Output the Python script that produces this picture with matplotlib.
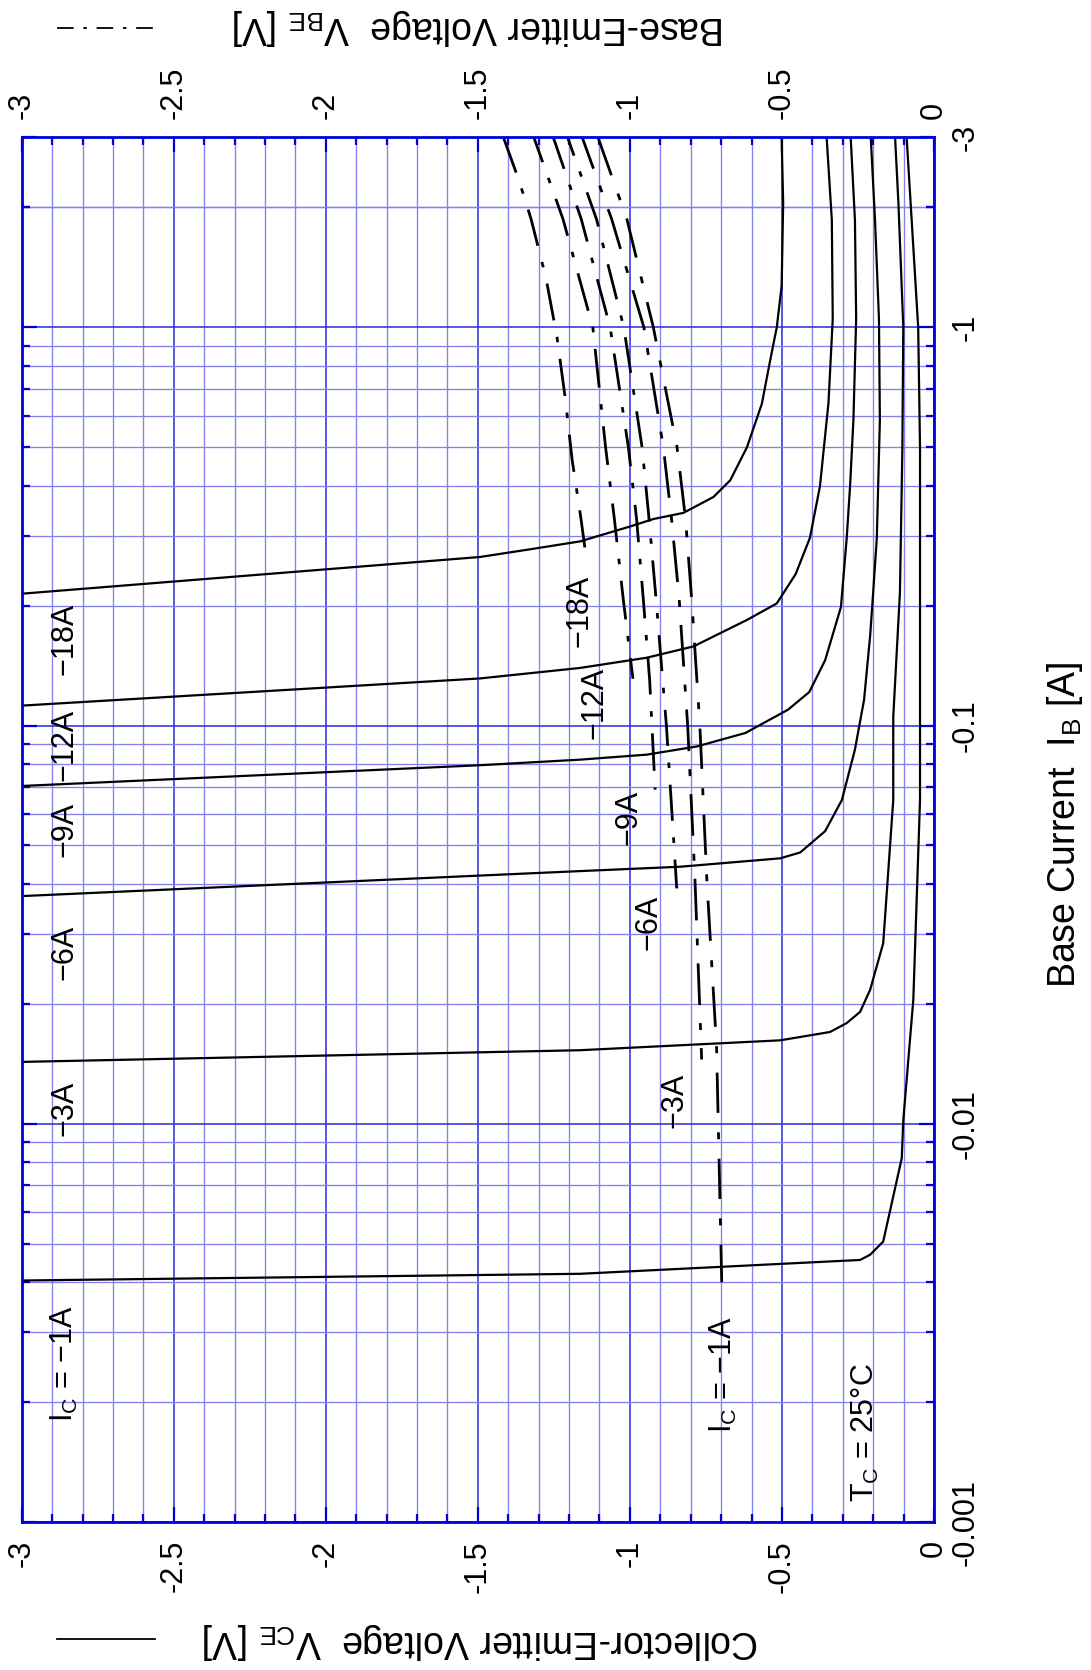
import numpy as np
import matplotlib.pyplot as plt
from matplotlib.lines import Line2D
from matplotlib.ticker import FixedLocator

plt.rcParams['font.family'] = ['Liberation Sans', 'DejaVu Sans']
plt.rcParams['mathtext.fontset'] = 'custom'
plt.rcParams['mathtext.rm'] = 'Liberation Sans'
plt.rcParams['mathtext.it'] = 'Liberation Sans:italic'
plt.rcParams['lines.scale_dashes'] = False

W, H = 1091, 1670

# ---- data (base current given as magnitude |I_B| in A, voltages in V) ----
# Collector-emitter saturation voltage V_CE vs I_B, one list pair per I_C
vce_1a = [-3.0, -1.164, -0.243, -0.21, -0.167, -0.106, -0.101, -0.068, -0.046, -0.046, -0.046, -0.046, -0.052, -0.090]
ib_1a = [0.00404, 0.00420, 0.00455, 0.00469, 0.00506, 0.0082, 0.0102, 0.0205, 0.065, 0.105, 0.216, 0.5, 1.0, 3.0]

vce_3a = [-3.0, -1.164, -0.506, -0.342, -0.287, -0.243, -0.21, -0.167, -0.134, -0.134, -0.112, -0.104, -0.101, -0.117, -0.128]
ib_3a = [0.0143, 0.0153, 0.0162, 0.0170, 0.0179, 0.0191, 0.0217, 0.0284, 0.065, 0.105, 0.216, 0.497, 1.0, 2.05, 3.0]

vce_6a = [-3.0, -1.493, -1.164, -0.835, -0.506, -0.44, -0.358, -0.303, -0.26, -0.23, -0.21, -0.20, -0.188, -0.178, -0.181, -0.194, -0.208]
ib_6a = [0.0373, 0.0420, 0.0431, 0.0442, 0.0464, 0.048, 0.0543, 0.065, 0.087, 0.116, 0.168, 0.216, 0.296, 0.585, 1.05, 1.86, 3.0]

vce_9a = [-3.0, -1.493, -1.164, -0.945, -0.780, -0.62, -0.48, -0.41, -0.358, -0.306, -0.287, -0.276, -0.265, -0.256, -0.260, -0.274]
ib_9a = [0.0705, 0.0795, 0.0821, 0.0845, 0.0886, 0.0958, 0.1096, 0.1214, 0.1459, 0.1984, 0.296, 0.399, 0.585, 1.05, 1.86, 3.0]

vce_12a = [-3.0, -1.493, -1.164, -0.945, -0.791, -0.616, -0.517, -0.455, -0.408, -0.375, -0.347, -0.333, -0.336, -0.353]
ib_12a = [0.1122, 0.1313, 0.1395, 0.148, 0.158, 0.184, 0.2026, 0.240, 0.296, 0.399, 0.646, 1.05, 1.86, 3.0]

vce_18a = [-3.0, -1.493, -1.329, -1.164, -1.0, -0.923, -0.824, -0.725, -0.670, -0.615, -0.566, -0.539, -0.517, -0.501, -0.496, -0.501]
ib_18a = [0.2143, 0.265, 0.277, 0.290, 0.316, 0.330, 0.342, 0.375, 0.413, 0.50, 0.643, 0.824, 1.00, 1.27, 2.05, 3.0]

# Base-emitter voltage V_BE vs I_B, one list pair per I_C
vbe_1a = [-1.105, -1.01, -0.923, -0.845, -0.817, -0.797, -0.77, -0.747, -0.715, -0.698]
ibe_1a = [3.0, 1.87, 1.0, 0.5, 0.33, 0.208, 0.1, 0.041, 0.0156, 0.004]

vbe_3a = [-1.157, -1.06, -0.954, -0.89, -0.863, -0.838, -0.81, -0.786, -0.764]
ibe_3a = [3.0, 1.87, 1.0, 0.5, 0.33, 0.208, 0.1, 0.041, 0.0145]

vbe_6a = [-1.205, -1.11, -1.020, -0.96, -0.937, -0.914, -0.88, -0.846]
ibe_6a = [3.0, 1.87, 1.0, 0.5, 0.33, 0.208, 0.1, 0.039]

vbe_9a = [-1.252, -1.16, -1.065, -1.005, -0.978, -0.956, -0.935, -0.917]
ibe_9a = [3.0, 1.87, 1.0, 0.5, 0.33, 0.208, 0.13, 0.069]

vbe_12a = [-1.316, -1.22, -1.122, -1.08, -1.051, -1.022, -0.99]
ibe_12a = [3.0, 1.87, 1.0, 0.5, 0.33, 0.208, 0.131]

vbe_18a = [-1.416, -1.365, -1.325, -1.276, -1.240, -1.213, -1.190, -1.161, -1.144]
ibe_18a = [3.0, 2.34, 1.87, 1.33, 0.948, 0.667, 0.465, 0.331, 0.265]

# curve labels: text, V position, |I_B| position
vce_labels = ['I$_\\mathrm{C}$ = \u22121A', '\u22123A', '\u22126A', '\u22129A', '\u221212A', '\u221218A']
vce_label_ib = [0.0025, 0.01095, 0.0270, 0.0549, 0.0894, 0.165]
vce_label_v = -2.86

vbe_labels = ['I$_\\mathrm{C}$ = \u22121A', '\u22123A', '\u22126A', '\u22129A', '\u221212A', '\u221218A']
vbe_label_v = [-0.691, -0.852, -0.940, -1.003, -1.118, -1.167]
vbe_label_ib = [0.00235, 0.01146, 0.0321, 0.0589, 0.114, 0.194]

volt_ticks = [-3, -2.5, -2, -1.5, -1, -0.5, 0]
volt_ticklabels = ['-3', '-2.5', '-2', '-1.5', '-1', '-0.5', '0']
ib_ticks = [0.001, 0.01, 0.1, 1, 3]
ib_ticklabels = ['-0.001', '-0.01', '-0.1', '-1', '-3']

# ---- figure ----
blue = '#0000dd'
fig = plt.figure(figsize=(W / 100, H / 100), dpi=100)
ax = fig.add_axes([21.7 / W, 1 - 1522 / H, (934 - 21.7) / W, (1522 - 137.3) / H])
ax.set_xlim(-3, 0)
ax.set_yscale('log')
ax.set_ylim(0.001, 3)

ax.xaxis.set_major_locator(FixedLocator(volt_ticks))
ax.xaxis.set_minor_locator(FixedLocator(np.round(np.arange(-3, 0.001, 0.1), 2)))
ax.set_xticklabels(volt_ticklabels)
ax.yaxis.set_major_locator(FixedLocator(ib_ticks))
minor_y = [k * 10.0 ** e for e in range(-3, 1) for k in range(2, 10)] + [2.0]
ax.yaxis.set_minor_locator(FixedLocator(minor_y))
ax.set_yticklabels(ib_ticklabels)
ax.yaxis.set_minor_formatter(plt.NullFormatter())

ax.grid(which='minor', color='#8282ef', lw=0.95)
ax.grid(which='major', color='#2a2ad6', lw=1.1)
ax.set_axisbelow(True)
for sp in ax.spines.values():
    sp.set_color(blue)
    sp.set_linewidth(2.0)

ax.tick_params(which='both', direction='in', color=blue, top=True, right=True, left=True, bottom=True)
ax.tick_params(which='major', length=11, width=1.6)
ax.tick_params(which='minor', length=6, width=1.6)
ax.tick_params(axis='x', labeltop=True, labelbottom=True, labelsize=22, pad=13, labelrotation=90)
ax.tick_params(axis='y', labelleft=False, labelright=True, labelsize=22, pad=12, labelrotation=90)
for t in ax.yaxis.get_major_ticks():
    t.label2.set_va('center')

# V_CE curves (solid)
for v, ib in [(vce_1a, ib_1a), (vce_3a, ib_3a), (vce_6a, ib_6a), (vce_9a, ib_9a),
              (vce_12a, ib_12a), (vce_18a, ib_18a)]:
    ax.plot(v, ib, color='black', lw=1.6, solid_joinstyle='round')

# V_BE curves (dash-dot variants)
dash_styles = [(0, (29, 14, 5, 14)), (6, (30, 13, 5, 13)), (12, (26, 12, 4, 12)),
               (3, (27, 12, 4, 12)), (9, (28, 12, 4, 12)), (0, (27, 12, 4, 12))]
for (v, ib), ls in zip([(vbe_1a, ibe_1a), (vbe_3a, ibe_3a), (vbe_6a, ibe_6a),
                        (vbe_9a, ibe_9a), (vbe_12a, ibe_12a), (vbe_18a, ibe_18a)], dash_styles):
    ax.plot(v, ib, color='black', lw=2.0, linestyle=ls, dash_capstyle='butt')

for s, y in zip(vce_labels, vce_label_ib):
    ax.text(vce_label_v, y, s, rotation=90, ha='center', va='center', fontsize=22)
for s, x, y in zip(vbe_labels, vbe_label_v, vbe_label_ib):
    ax.text(x, y, s, rotation=90, ha='center', va='center', fontsize=22)
ax.text(-0.227, 0.00168, 'T$_\\mathrm{C}$ = 25\u00b0C', rotation=90, ha='center', va='center', fontsize=22)

# axis titles (page is turned, so two of them read upside down)
fig.text(479 / W, 1 - 27 / H, 'Base-Emitter Voltage  V$_\\mathrm{BE}$ [V]', rotation=180,
         ha='center', va='center', fontsize=27)
fig.text(481 / W, 1 - 1641 / H, 'Collector-Emitter Voltage  V$_\\mathrm{CE}$ [V]', rotation=180,
         ha='center', va='center', fontsize=27)
fig.text(1065 / W, 1 - 825 / H, 'Base Current  I$_\\mathrm{B}$ [A]', rotation=90,
         ha='center', va='center', fontsize=27)

# legend line samples
fig.add_artist(Line2D([57 / W, 155 / W], [1 - 28 / H, 1 - 28 / H], transform=fig.transFigure,
                      color='black', lw=1.3, linestyle=(0, (12, 7, 2.5, 7))))
fig.add_artist(Line2D([57 / W, 155 / W], [1 - 1639 / H, 1 - 1639 / H], transform=fig.transFigure,
                      color='black', lw=1.3))

fig.savefig('out.png', dpi=100)
